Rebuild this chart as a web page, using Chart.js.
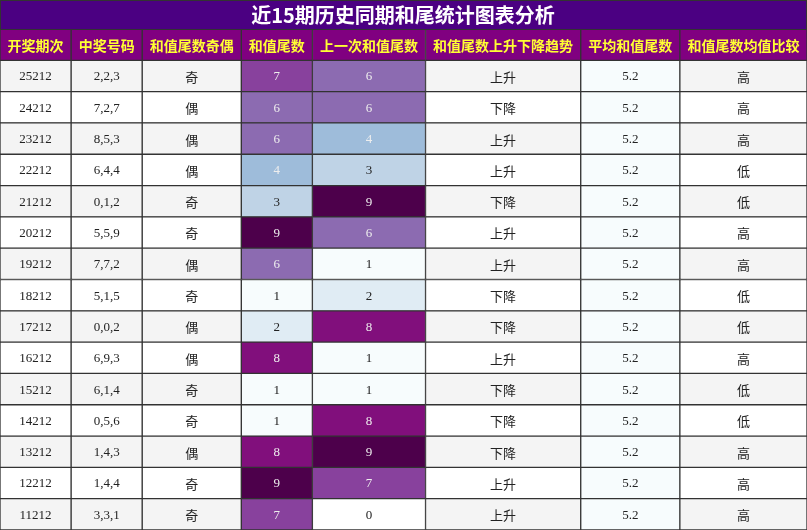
<!DOCTYPE html>
<html><head><meta charset="utf-8">
<script src="https://cdn.jsdelivr.net/npm/chart.js@4/dist/chart.umd.min.js"></script>
<style>html,body{margin:0;padding:0;background:#fff}</style>
</head><body>
<canvas id="c" width="807" height="530"></canvas>
<script>
const title = "近15期历史同期和尾统计图表分析";
const headers = ["开奖期次","中奖号码","和值尾数奇偶","和值尾数","上一次和值尾数","和值尾数上升下降趋势","平均和值尾数","和值尾数均值比较"];
const periods = ["25212","24212","23212","22212","21212","20212","19212","18212","17212","16212","15212","14212","13212","12212","11212"];
const numbers = ["2,2,3","7,2,7","8,5,3","6,4,4","0,1,2","5,5,9","7,7,2","5,1,5","0,0,2","6,9,3","6,1,4","0,5,6","1,4,3","1,4,4","3,3,1"];
const parity = ["奇","偶","偶","偶","奇","奇","偶","奇","偶","偶","奇","奇","偶","奇","奇"];
const tails = [7,6,6,4,3,9,6,1,2,8,1,1,8,9,7];
const prevTails = [6,6,4,3,9,6,1,2,8,1,1,8,9,7,0];
const trend = ["上升","下降","上升","上升","下降","上升","上升","下降","下降","上升","下降","下降","下降","上升","上升"];
const avg = ["5.2","5.2","5.2","5.2","5.2","5.2","5.2","5.2","5.2","5.2","5.2","5.2","5.2","5.2","5.2"];
const compare = ["高","高","高","低","低","高","高","低","低","高","低","低","高","高","高"];

const colEdges = [0,71,142,241,312,425,580,679,806];
const heat = {0:"#ffffff",1:"#f7fcfd",2:"#e0ecf4",3:"#bfd3e6",4:"#9ebcda",5:"#8c96c6",6:"#8c6bb1",7:"#88419d",8:"#810f7c",9:"#4d004b"};
const columns = [periods,numbers,parity,tails,prevTails,trend,avg,compare];
const rowLabels = ["h"].concat(periods);

const datasets = columns.map((col,ci)=>{
  const bg = [], fg = [];
  const data = rowLabels.map(()=>[colEdges[ci],colEdges[ci+1]]);
  rowLabels.forEach((_,ri)=>{
    if(ri===0){bg.push("#800080");fg.push("#ffff33");return;}
    const r=ri-1;
    let c = r%2===0 ? "#f4f4f4" : "#ffffff", t="#222";
    if(ci===3||ci===4){const v=col[r];c=heat[v]; if(v>=4) t="#eeeeee";}
    if(ci===6) c="#f7fcfd";
    bg.push(c);fg.push(t);
  });
  return {data, backgroundColor:bg, fg, texts:[headers[ci]].concat(col.map(String)),
    borderColor:"#333", borderWidth:1, borderSkipped:false,
    barPercentage:1, categoryPercentage:1, grouped:false};
});

const textPlugin = {
  id:"txt",
  afterDatasetsDraw(chart){
    const ctx=chart.ctx;
    ctx.save();
    ctx.fillStyle="#4b0082";
    ctx.fillRect(0,0,807,29);
    ctx.strokeStyle="#333";ctx.strokeRect(0.5,0.5,806,29);
    ctx.fillStyle="#fff";ctx.font="bold 20px 'Noto Sans CJK SC'";
    ctx.textAlign="center";ctx.textBaseline="middle";
    ctx.fillText(title,403,15);
    chart.data.datasets.forEach((ds,di)=>{
      chart.getDatasetMeta(di).data.forEach((el,i)=>{
        const cx=(el.x+el.base)/2;
        ctx.fillStyle=ds.fg[i];
        const s=ds.texts[i];
        if(i===0) ctx.font="bold 14px 'Noto Sans CJK SC'";
        else if(/[\u4e00-\u9fff]/.test(s)) ctx.font="13px 'Noto Sans CJK SC'";
        else ctx.font="13px 'Liberation Serif'";
        ctx.fillText(s,cx,el.y+1);
      });
    });
    ctx.restore();
  }
};

new Chart(document.getElementById("c"),{
  type:"bar",
  data:{labels:rowLabels,datasets},
  options:{
    indexAxis:"y",responsive:false,animation:false,
    datasets:{bar:{grouped:false}},
    layout:{padding:{top:29,left:0,right:0,bottom:0}},
    plugins:{legend:{display:false},tooltip:{enabled:false}},
    scales:{
      x:{type:"linear",min:0,max:806,display:false},
      y:{type:"category",display:false,offset:true,grid:{display:false}}
    }
  },
  plugins:[textPlugin]
});
</script>
</body></html>
